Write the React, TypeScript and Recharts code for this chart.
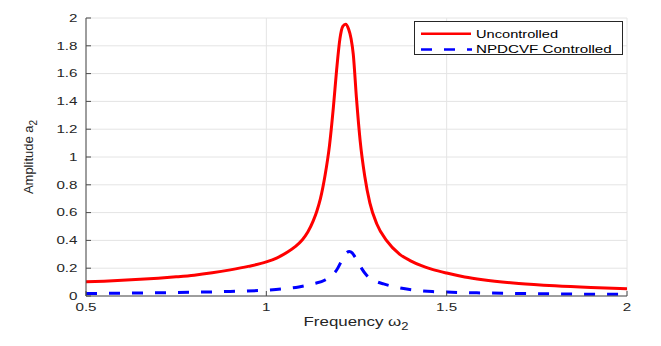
import React from 'react';
import { LineChart, Line, XAxis, YAxis, CartesianGrid, Legend, Label } from 'recharts';

const uncontrolledFreq = [
  0.5, 0.55, 0.6, 0.65, 0.7, 0.75, 0.8, 0.85, 0.9, 0.95, 1.0, 1.03, 1.06, 1.08, 1.1, 1.115, 1.13, 1.14, 1.15,
  1.163, 1.175, 1.186, 1.195, 1.204, 1.212, 1.22, 1.228, 1.235, 1.241, 1.25, 1.26, 1.273, 1.287, 1.306, 1.333,
  1.37, 1.4, 1.43, 1.46, 1.5, 1.55, 1.6, 1.7, 1.8, 1.9, 2.0,
];
const uncontrolledAmp = [
  0.102, 0.107, 0.113, 0.12, 0.128, 0.138, 0.15, 0.167, 0.188, 0.213, 0.245, 0.275, 0.318, 0.355, 0.405, 0.46,
  0.54, 0.61, 0.7, 0.87, 1.08, 1.36, 1.63, 1.85, 1.94, 1.955, 1.92, 1.85, 1.74, 1.42, 1.12, 0.86, 0.67, 0.52, 0.4,
  0.3, 0.253, 0.218, 0.192, 0.165, 0.137, 0.117, 0.09, 0.073, 0.061, 0.052,
];
const controlledFreq = [
  0.5, 0.6, 0.7, 0.8, 0.9, 1.0, 1.05, 1.09, 1.13, 1.163, 1.18, 1.195, 1.205, 1.213, 1.222, 1.23, 1.238, 1.246,
  1.255, 1.265, 1.278, 1.29, 1.306, 1.325, 1.343, 1.37, 1.41, 1.46, 1.5, 1.6, 1.7, 1.8, 1.9, 2.0,
];
const controlledAmp = [
  0.018, 0.02, 0.023, 0.027, 0.033, 0.042, 0.052, 0.065, 0.088, 0.115, 0.145, 0.187, 0.235, 0.28, 0.31, 0.32,
  0.31, 0.28, 0.245, 0.195, 0.15, 0.124, 0.103, 0.087, 0.074, 0.058, 0.043, 0.032, 0.028, 0.022, 0.018, 0.015,
  0.013, 0.012,
];
const xTicks = [0.5, 1, 1.5, 2];
const xTickLabels = ['0.5', '1', '1.5', '2'];
const yTicks = [0, 0.2, 0.4, 0.6, 0.8, 1, 1.2, 1.4, 1.6, 1.8, 2];
const yTickLabels = ['0', '0.2', '0.4', '0.6', '0.8', '1', '1.2', '1.4', '1.6', '1.8', '2'];
const seriesNames = ['Uncontrolled', 'NPDCVF Controlled'];

const uncontrolledData = uncontrolledFreq.map((f, i) => ({ f, v: uncontrolledAmp[i] }));
const controlledData = controlledFreq.map((f, i) => ({ f, v: controlledAmp[i] }));

const FONT = 'Liberation Sans, Arial, Helvetica, sans-serif';
const TXT = '#262626';
const AX = '#4a4a4a';
const SX = 1.38;

const stretch = (x: number, y: number, s: number) =>
  `translate(${x} ${y}) scale(${s} 1) translate(${-x} ${-y})`;

const XTick = (props: any) => {
  const { x, y, payload } = props;
  const idx = xTicks.indexOf(payload.value);
  const label = idx >= 0 ? xTickLabels[idx] : String(payload.value);
  return (
    <text x={x} y={y} textAnchor="middle" dominantBaseline="central" fontSize={11} fontFamily={FONT} fill={TXT}
      transform={stretch(x, y, SX)}>
      {label}
    </text>
  );
};

const YTick = (props: any) => {
  const { x, y, payload } = props;
  const idx = yTicks.indexOf(payload.value);
  const label = idx >= 0 ? yTickLabels[idx] : String(payload.value);
  return (
    <text x={x} y={y} textAnchor="end" dominantBaseline="central" fontSize={11} fontFamily={FONT} fill={TXT}
      transform={stretch(x, y, SX)}>
      {label}
    </text>
  );
};

const blank = () => '';

const XLabel = () => (
  <text x={356} y={326.5} textAnchor="middle" fontSize={13} fontFamily={FONT} fill={TXT}
    transform={stretch(356, 326.5, 1.3)}>
    <tspan>Frequency </tspan>
    <tspan>ω</tspan>
    <tspan dy={4} fontSize={10}>2</tspan>
  </text>
);

const YLabel = () => (
  <text x={33} y={157} textAnchor="middle" fontSize={13} fontFamily={FONT} fill={TXT}
    transform="rotate(-90 33 157)">
    <tspan>Amplitude a</tspan>
    <tspan dy={4} fontSize={10}>2</tspan>
  </text>
);

const LegendBox = () => (
  <div style={{ width: 209, height: 34, border: '1px solid #262626', background: '#fff', boxSizing: 'border-box' }}>
    <svg width={207} height={32} style={{ display: 'block', overflow: 'visible' }}>
      <line x1={6} x2={56} y1={11.7} y2={11.7} stroke="#ff0000" strokeWidth={2.5} />
      <line x1={6} x2={57} y1={27.4} y2={27.4} stroke="#0000ff" strokeWidth={2.5} strokeDasharray="11 12" />
      <text x={61} y={11.7} dominantBaseline="central" fontSize={11} fontFamily={FONT} fill="#000"
        transform={stretch(61, 11.7, 1.33)}>
        {seriesNames[0]}
      </text>
      <text x={61} y={27.4} dominantBaseline="central" fontSize={11} fontFamily={FONT} fill="#000"
        transform={stretch(61, 27.4, 1.38)}>
        {seriesNames[1]}
      </text>
    </svg>
  </div>
);

export default function App() {
  return (
    <div style={{ position: 'absolute', left: 0, top: 0, background: '#fff' }}>
      <LineChart width={661} height={346} margin={{ top: 18, right: 34, left: 0, bottom: 0 }}>
        <CartesianGrid xAxisId="main" yAxisId="main" stroke="#e4e4e4" strokeWidth={1} />
        <XAxis xAxisId="main" dataKey="f" type="number" domain={[0.5, 2]} ticks={xTicks} height={50}
          axisLine={{ stroke: AX }} tickLine={{ stroke: AX }} tickSize={-5} tickMargin={16.5}
          tick={<XTick />} allowDataOverflow interval={0}>
          <Label content={<XLabel />} />
        </XAxis>
        <XAxis xAxisId="top" orientation="top" dataKey="f" type="number" domain={[0.5, 2]} ticks={xTicks} height={0}
          axisLine={{ stroke: AX }} tickLine={{ stroke: AX }} tickSize={-5} tickFormatter={blank} interval={0} />
        <YAxis yAxisId="main" type="number" domain={[0, 2]} ticks={yTicks} width={86}
          axisLine={{ stroke: AX }} tickLine={{ stroke: AX }} tickSize={-5} tickMargin={13.5}
          tick={<YTick />} allowDataOverflow interval={0}>
          <Label content={<YLabel />} />
        </YAxis>
        <YAxis yAxisId="right" orientation="right" type="number" domain={[0, 2]} ticks={yTicks} width={0}
          axisLine={{ stroke: AX }} tickLine={{ stroke: AX }} tickSize={-5} tickFormatter={blank} interval={0} />
        <Legend content={<LegendBox />} layout="horizontal" verticalAlign="middle" align="center"
          wrapperStyle={{ position: 'absolute', left: 414, top: 21, width: 209, height: 34 }} />
        <Line xAxisId="main" yAxisId="main" data={uncontrolledData} type="monotone" dataKey="v" name={seriesNames[0]}
          stroke="#ff0000" strokeWidth={3} dot={false} isAnimationActive={false} />
        <Line xAxisId="main" yAxisId="main" data={controlledData} type="monotone" dataKey="v" name={seriesNames[1]}
          stroke="#0000ff" strokeWidth={3} strokeDasharray="11 12" dot={false} isAnimationActive={false} />
      </LineChart>
    </div>
  );
}
